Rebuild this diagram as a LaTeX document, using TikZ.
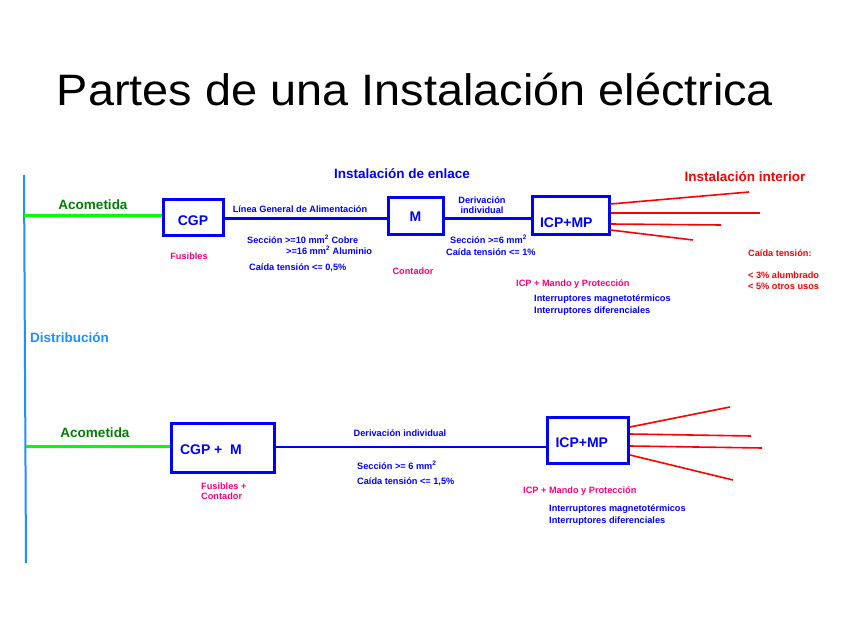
\documentclass[tikz,border=0pt]{standalone}
\usepackage{fontspec}
\setmainfont{Liberation Sans}
\definecolor{boxblue}{RGB}{0,0,255}
\definecolor{acogreen}{RGB}{0,255,0}
\definecolor{darkgreen}{RGB}{0,128,0}
\definecolor{distblue}{RGB}{30,144,255}
\definecolor{pinkred}{RGB}{255,0,120}
\definecolor{linered}{RGB}{255,0,0}
\tikzset{
  boxnode/.style={draw=boxblue, line width=3pt, inner sep=0pt, font=\fontsize{14}{14}\selectfont\bfseries, text=boxblue, text height=10pt, text depth=0pt},
  feed/.style={boxblue, line width=3pt},
  feedthin/.style={boxblue, line width=2pt},
  aco/.style={acogreen, line width=3pt},
  redline/.style={linered, line width=1.6pt},
  head/.style={font=\fontsize{13.5}{13.5}\selectfont\bfseries, inner sep=0pt},
  small/.style={font=\fontsize{9.2}{9.2}\selectfont\bfseries, inner sep=0pt, text=boxblue},
  smallL/.style={small, anchor=west},
  pinkL/.style={small, anchor=west, text=pinkred},
  redL/.style={small, anchor=west, text=linered},
}
\begin{document}
\begin{tikzpicture}[x=1pt,y=-1pt]
\useasboundingbox (0,0) rectangle (848,636);
\fill[white] (0,0) rectangle (848,636);
% title
\node[font=\fontsize{44}{44}\selectfont, inner sep=0pt, xscale=1.065, transform shape] (title) at (415,90) {Partes de una Instalación eléctrica};
% distribution line
\coordinate (dtop) at (24,175);
\coordinate (dbot) at (26,563);
\draw[distblue, line width=2pt] (dtop) -- (dbot);
\node[head, anchor=west, text=distblue] (dist) at (30,338) {Distribución};
% ---------- top row ----------
\node[boxnode, minimum width=60pt, minimum height=36pt] (cgp) at (193,218) {\raisebox{-3pt}{CGP}};
\node[boxnode, minimum width=55pt, minimum height=37pt] (m) at (415.5,216.5) {M};
\node[boxnode, minimum width=77pt, minimum height=38pt] (icp) at (570.5,216) {\raisebox{-7pt}{\makebox[61pt][l]{ICP+MP}}};
\coordinate (a1) at (24,216);
\draw[aco] (a1) -- (cgp.west |- a1);
\draw[feed] (cgp.east |- 0,219) -- (m.west |- 0,219);
\draw[feed] (m.east |- 0,219) -- (icp.west |- 0,219);
\coordinate (r1) at (749,192);
\coordinate (r2) at (760,213);
\coordinate (r3) at (721,225);
\coordinate (r4) at (693,240);
\draw[redline] (icp.east |- 0,204) -- (r1);
\draw[redline] (icp.east |- 0,213) -- (r2);
\draw[redline] (icp.east |- 0,224) -- (r3);
\draw[redline] (icp.east |- 0,230) -- (r4);
\node[head, text=darkgreen] (aco1) at (93,205) {Acometida};
\node[head, text=boxblue] (enl) at (402,174) {Instalación de enlace};
\node[head, text=linered] (intl) at (745,177) {Instalación interior};
\node[small] (lga) at (300,209) {Línea General de Alimentación};
\node[small, align=center] (deriv) at (482,205) {Derivación\\[1pt]individual};
\node[smallL] (s1) at (247,239) {Sección >=10 mm\textsuperscript{2} Cobre};
\node[smallL] (s2) at (286,250) {>=16 mm\textsuperscript{2} Aluminio};
\node[smallL] (s3) at (249,268) {Caída tensión <= 0,5\%};
\node[small, text=pinkred] (fus) at (189,256) {Fusibles};
\node[small, text=pinkred] (cont) at (413,271) {Contador};
\node[smallL] (s4) at (450,239) {Sección >=6 mm\textsuperscript{2}};
\node[smallL] (s5) at (446,252) {Caída tensión <= 1\%};
\node[pinkL] (icpt) at (516,284) {ICP + Mando y Protección};
\node[smallL] (im1) at (534,299) {Interruptores magnetotérmicos};
\node[smallL] (id1) at (534,311) {Interruptores diferenciales};
\node[redL] (ct) at (748,253) {Caída tensión:};
\node[redL] (ct1) at (748,275) {< 3\% alumbrado};
\node[redL] (ct2) at (748,286) {< 5\% otros usos};
% ---------- bottom row ----------
\node[boxnode, minimum width=103pt, minimum height=49pt] (cgpm) at (222.5,447.5) {\raisebox{-2pt}{\makebox[85pt][l]{CGP +\ \ M}}};
\node[boxnode, minimum width=81pt, minimum height=46pt] (icp2) at (588,440) {\raisebox{-2pt}{\makebox[65pt][l]{ICP+MP}}};
\coordinate (a2) at (26,446);
\draw[aco] (a2) -- (cgpm.west |- a2);
\draw[feedthin] (cgpm.east |- 0,447) -- (icp2.west |- 0,447);
\coordinate (q1) at (730,407);
\coordinate (q2) at (751,436);
\coordinate (q3) at (762,448);
\coordinate (q4) at (733,480);
\draw[redline] (icp2.east |- 0,427) -- (q1);
\draw[redline] (icp2.east |- 0,434) -- (q2);
\draw[redline] (icp2.east |- 0,446) -- (q3);
\draw[redline] (icp2.east |- 0,455) -- (q4);
\node[head, text=darkgreen] (aco2) at (95,433) {Acometida};
\node[small] (deriv2) at (400,433) {Derivación individual};
\node[smallL] (s6) at (357,465) {Sección >= 6 mm\textsuperscript{2}};
\node[smallL] (s7) at (357,482) {Caída tensión <= 1,5\%};
\node[pinkL, align=left] (fc) at (201,491) {Fusibles +\\[1pt]Contador};
\node[pinkL] (icpt2) at (523,491) {ICP + Mando y Protección};
\node[smallL] (im2) at (549,509) {Interruptores magnetotérmicos};
\node[smallL] (id2) at (549,521) {Interruptores diferenciales};
\end{tikzpicture}
\end{document}
